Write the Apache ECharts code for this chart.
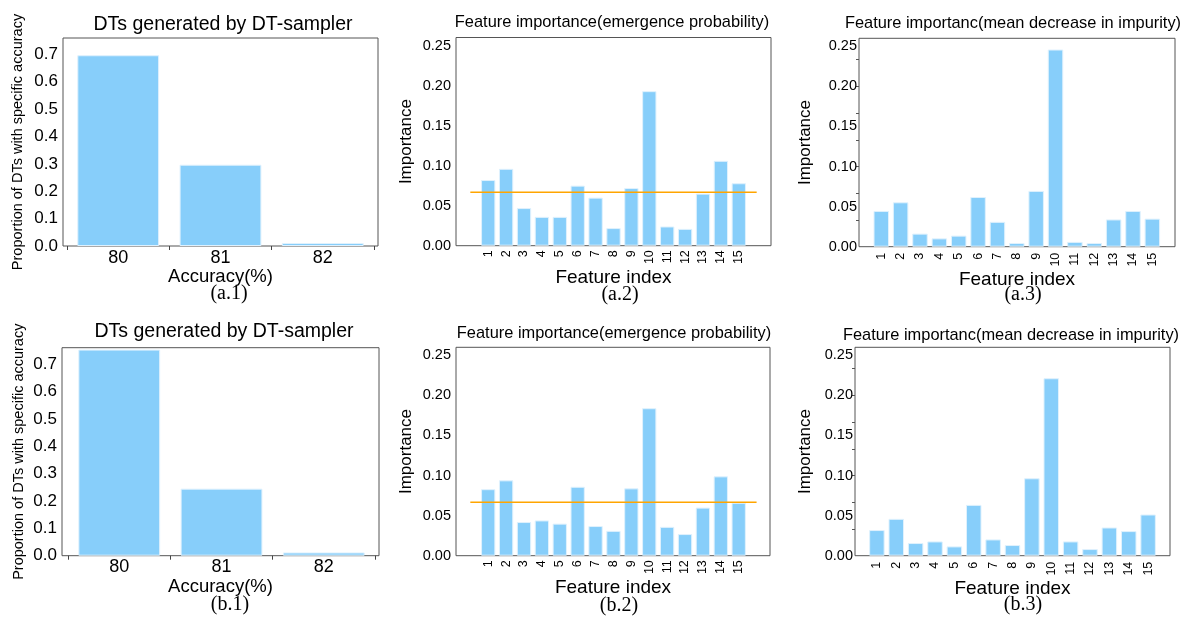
<!DOCTYPE html>
<html><head><meta charset="utf-8">
<script src="https://cdn.jsdelivr.net/npm/echarts@6/dist/echarts.min.js"></script>
<style>html,body{margin:0;padding:0;background:#fff}#c{width:1197px;height:627px}</style>
</head><body><div id="c"></div>
<script>
// ---- data ----
const accuracyLabels = ['80', '81', '82'];
const a1Proportion = [0.697, 0.297, 0.011];
const b1Proportion = [0.753, 0.245, 0.012];
const proportionTicks = [0, 0.1, 0.2, 0.3, 0.4, 0.5, 0.6, 0.7];

const featureLabels = ['1','2','3','4','5','6','7','8','9','10','11','12','13','14','15'];
const a2Emergence = [0.082, 0.096, 0.047, 0.036, 0.036, 0.075, 0.060, 0.022, 0.072, 0.193, 0.024, 0.021, 0.065, 0.106, 0.078];
const b2Emergence = [0.083, 0.094, 0.042, 0.044, 0.040, 0.086, 0.037, 0.031, 0.084, 0.184, 0.036, 0.027, 0.060, 0.099, 0.066];
const a3Impurity = [0.0446, 0.0554, 0.0163, 0.0104, 0.0138, 0.062, 0.031, 0.0046, 0.0696, 0.246, 0.006, 0.0046, 0.034, 0.0446, 0.035];
const b3Impurity = [0.032, 0.046, 0.0158, 0.0178, 0.0116, 0.0634, 0.0203, 0.0133, 0.0966, 0.2214, 0.0178, 0.0083, 0.0352, 0.0307, 0.0514];
const meanImportance = 0.0667;
const meanLineRange = [-1, 15];
const importanceTicks = [0, 0.05, 0.10, 0.15, 0.20, 0.25];
const impurityMinorTicks = [0.0333, 0.0667, 0.1, 0.1333, 0.1667, 0.2, 0.2333];

const titles = {
  acc: 'DTs generated by DT-sampler',
  emerg: 'Feature importance(emergence probability)',
  impur: 'Feature importanc(mean decrease in impurity)'
};
const captions = ['(a.1)', '(a.2)', '(a.3)', '(b.1)', '(b.2)', '(b.3)'];

// ---- layout ----
const SANS = '"Liberation Sans", Arial, sans-serif';
const SERIF = '"Liberation Serif", "Times New Roman", serif';
const BAR = '#87CEFA';
const panels = [
  {kind:'acc', values:a1Proportion, grid:{left:63, top:38, width:315, height:208}, xr:[-0.54, 2.54],
   tx:223, ty:25, cx:229, cy:294, yGap:37.5, xGap:21.5, xMargin:3},
  {kind:'emerg', values:a2Emergence, grid:{left:456, top:37.5, width:315, height:208.2}, xr:[-1.8, 15.8],
   tx:612, ty:22, cx:620, cy:295, yGap:41.5, xGap:19, xMargin:4.5},
  {kind:'impur', values:a3Impurity, grid:{left:859, top:38.3, width:316, height:208.4}, xr:[-1.15, 15.17],
   tx:1013, ty:23, cx:1023, cy:295, yGap:45.5, xGap:19, xMargin:6},
  {kind:'acc', values:b1Proportion, grid:{left:62, top:347.7, width:317, height:208}, xr:[-0.56, 2.54],
   tx:224, ty:332, cx:230, cy:605, yGap:36, xGap:21.5, xMargin:2},
  {kind:'emerg', values:b2Emergence, grid:{left:456, top:347.3, width:314, height:208.4}, xr:[-1.8, 15.75],
   tx:614, ty:333, cx:619, cy:606, yGap:41.5, xGap:21, xMargin:4.5},
  {kind:'impur', values:b3Impurity, grid:{left:855, top:347.3, width:315, height:208.4}, xr:[-1.13, 15.13],
   tx:1011, ty:335, cx:1023, cy:605, yGap:41.5, xGap:21, xMargin:6}
];

const option = {animation:false, backgroundColor:'#fff', grid:[], xAxis:[], yAxis:[], series:[], graphic:[]};

panels.forEach((p, i) => {
  const isAcc = p.kind === 'acc';
  const labels = isAcc ? accuracyLabels : featureLabels;
  option.grid.push(Object.assign({show:true, borderColor:'#555', borderWidth:1, backgroundColor:'transparent', containLabel:false}, p.grid));
  option.xAxis.push({
    type:'value', gridIndex:i, min:p.xr[0], max:p.xr[1],
    name: isAcc ? 'Accuracy(%)' : 'Feature index', nameLocation:'middle', nameGap:p.xGap,
    nameTextStyle:{fontFamily:SANS, fontSize: isAcc ? 18.5 : 19, color:'#000'},
    axisLine:{show:false, onZero:false}, splitLine:{show:false},
    axisTick: isAcc ? {show:true, customValues:[-0.5, 0.5, 1.5, 2.5], length:4, lineStyle:{color:'#444'}} : {show:false},
    axisLabel:{
      customValues: labels.map((_, k) => k),
      formatter: v => labels[Math.round(v)],
      rotate: isAcc ? 0 : 90, margin:p.xMargin,
      fontFamily:SANS, fontSize: isAcc ? 18 : 12.5, color:'#000'
    }
  });
  const ymax = isAcc ? 0.76 : 0.26;
  option.yAxis.push({
    type:'value', gridIndex:i, min:0, max:ymax,
    name: isAcc ? 'Proportion of DTs with specific accuracy' : 'Importance',
    nameLocation:'middle', nameGap:p.yGap,
    nameTextStyle:{fontFamily:SANS, fontSize: isAcc ? 14.5 : 17, color:'#000'},
    axisLine:{show:false, onZero:false}, splitLine:{show:false},
    axisTick: p.kind === 'impur' ? {show:true, customValues:impurityMinorTicks, length:3, lineStyle:{color:'#555'}} : {show:false},
    axisLabel:{
      customValues: isAcc ? proportionTicks : importanceTicks,
      formatter: v => v.toFixed(isAcc ? 1 : 2),
      margin: p.kind === 'impur' ? 2 : 5,
      fontFamily:SANS, fontSize: isAcc ? 17 : 14.5, color:'#000'
    }
  });
  option.series.push({
    type:'bar', xAxisIndex:i, yAxisIndex:i, barWidth:'80%',
    data: p.values.map((v, k) => [k, v]),
    itemStyle:{color:BAR, borderColor:'#dff1fd', borderWidth:1}
  });
  if (p.kind === 'emerg') {
    option.series.push({
      type:'line', xAxisIndex:i, yAxisIndex:i, symbol:'none', z:5,
      data: meanLineRange.map(x => [x, meanImportance]),
      lineStyle:{color:'#FFA500', width:1.5}
    });
  }
  option.graphic.push({type:'text', x:p.tx, y:p.ty, style:{text:titles[p.kind], font:(isAcc ? '19.5px ' : '16.4px ') + SANS, fill:'#000', align:'center', verticalAlign:'middle'}});
  option.graphic.push({type:'text', x:p.cx, y:p.cy, style:{text:captions[i], font:'20px ' + SERIF, fill:'#000', align:'center', verticalAlign:'middle'}});
});

const chart = echarts.init(document.getElementById('c'), null, {renderer:'canvas'});
chart.setOption(option);
</script>
</body></html>
